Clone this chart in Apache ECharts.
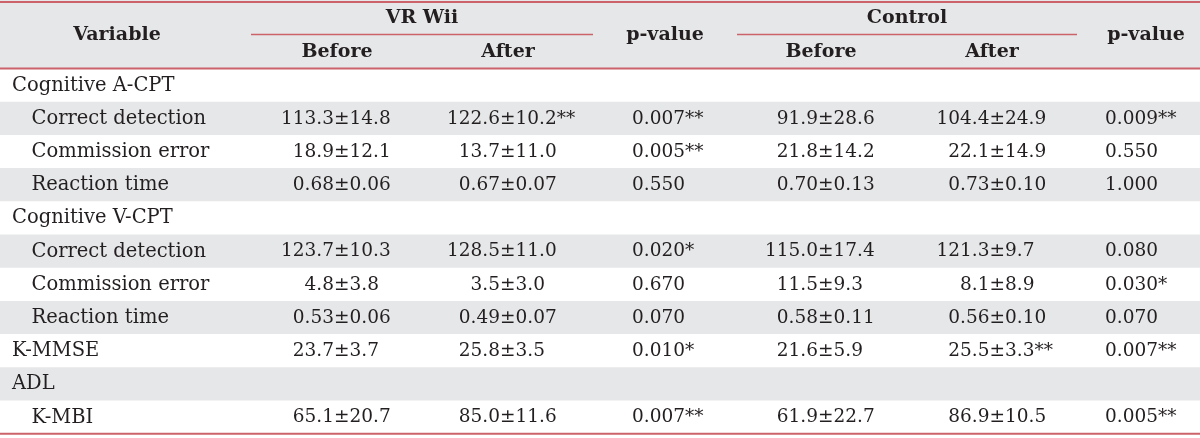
<!DOCTYPE html>
<html>
<head>
<meta charset="utf-8">
<script src="https://cdn.jsdelivr.net/npm/echarts@6/dist/echarts.min.js"></script>
<style>
  html, body { margin: 0; padding: 0; background: #fff; }
  #chart { width: 1200px; height: 438px; }
</style>
</head>
<body>
<div id="chart"></div>
<script>
// table content
const variables = ['Cognitive A-CPT', 'Correct detection', 'Commission error', 'Reaction time',
  'Cognitive V-CPT', 'Correct detection', 'Commission error', 'Reaction time',
  'K-MMSE', 'ADL', 'K-MBI']
const indent = [0, 1, 1, 1, 0, 1, 1, 1, 0, 0, 1]
const vrBefore = ['', '113.3±14.8', '18.9±12.1', '0.68±0.06', '', '123.7±10.3', '4.8±3.8', '0.53±0.06', '23.7±3.7', '', '65.1±20.7']
const vrAfter = ['', '122.6±10.2**', '13.7±11.0', '0.67±0.07', '', '128.5±11.0', '3.5±3.0', '0.49±0.07', '25.8±3.5', '', '85.0±11.6']
const vrP = ['', '0.007**', '0.005**', '0.550', '', '0.020*', '0.670', '0.070', '0.010*', '', '0.007**']
const ctrlBefore = ['', '91.9±28.6', '21.8±14.2', '0.70±0.13', '', '115.0±17.4', '11.5±9.3', '0.58±0.11', '21.6±5.9', '', '61.9±22.7']
const ctrlAfter = ['', '104.4±24.9', '22.1±14.9', '0.73±0.10', '', '121.3±9.7', '8.1±8.9', '0.56±0.10', '25.5±3.3**', '', '86.9±10.5']
const ctrlP = ['', '0.009**', '0.550', '1.000', '', '0.080', '0.030*', '0.070', '0.007**', '', '0.005**']

const groupHeaders = ['VR Wii', 'Control']
const subHeaders = ['Before', 'After']

// layout (pixel units on hidden axes)
const W = 1200, H = 438
const HEAD_H = 68.5
const ROW_H = 33.2
const TEXT = '#231f20'
const RED = '#cc636b'
const GRAY = '#e6e7e8'
const FONT = 'DejaVu Serif'

const rowY = (i) => HEAD_H + ROW_H * (i + 0.5)

// ± split points for mean/sd columns, left edge for p-value columns
const pmCols = [
  { x: 334, vals: vrBefore },
  { x: 500, vals: vrAfter },
  { x: 818, vals: ctrlBefore },
  { x: 989.5, vals: ctrlAfter }
]
const pCols = [
  { x: 632, vals: vrP },
  { x: 1105, vals: ctrlP }
]

const textSeries = (name, data, align, size, bold) => ({
  name,
  type: 'scatter',
  symbolSize: 0,
  silent: true,
  itemStyle: { opacity: 1 },
  data,
  label: {
    show: true,
    position: [0, 0],
    align,
    verticalAlign: 'middle',
    formatter: (p) => p.value[2],
    color: TEXT,
    opacity: 1,
    fontFamily: FONT,
    fontSize: size,
    fontWeight: bold ? 'bold' : 'normal'
  },
  z: 5
})

// bands: header plus every other body row
const bands = [[0, HEAD_H]]
variables.forEach((v, i) => {
  if (i % 2 === 1) bands.push([HEAD_H + ROW_H * i, HEAD_H + ROW_H * (i + 1)])
})

// rules: [x0, x1, y, width]
const rules = [
  [0, W, 2, 2],
  [0, W, HEAD_H, 2],
  [0, W, HEAD_H + ROW_H * variables.length, 2],
  [251, 593, 34.5, 1.5],
  [737, 1077, 34.5, 1.5]
]

const series = []

series.push({
  type: 'custom',
  silent: true,
  data: bands,
  renderItem: (params, api) => {
    const a = api.coord([0, api.value(0)])
    const b = api.coord([W, api.value(1)])
    return { type: 'rect', shape: { x: a[0], y: a[1], width: b[0] - a[0], height: b[1] - a[1] }, style: { fill: GRAY } }
  },
  z: 1
})

series.push({
  type: 'custom',
  silent: true,
  data: rules,
  renderItem: (params, api) => {
    const a = api.coord([api.value(0), api.value(2)])
    const b = api.coord([api.value(1), api.value(2)])
    return { type: 'line', shape: { x1: a[0], y1: a[1], x2: b[0], y2: b[1] }, style: { stroke: RED, lineWidth: api.value(3) } }
  },
  z: 3
})

// header text
series.push(textSeries('head', [
  [117, 35, 'Variable'],
  [422, 18, groupHeaders[0]],
  [907, 18, groupHeaders[1]],
  [337, 52, subHeaders[0]],
  [508, 52, subHeaders[1]],
  [821, 52, subHeaders[0]],
  [992, 52, subHeaders[1]],
  [665, 35, 'p-value'],
  [1146, 35, 'p-value']
], 'center', 19, true))

// variable names
series.push(textSeries('variable', variables.map((v, i) => [indent[i] ? 31.5 : 12, rowY(i) + 0.5, v]), 'left', 19.5, false))

// mean ± sd, aligned on the ± sign
const meanData = []
const sdData = []
pmCols.forEach((c) => {
  c.vals.forEach((s, i) => {
    if (!s) return
    const k = s.indexOf('±')
    meanData.push([c.x, rowY(i) + 0.5, s.slice(0, k)])
    sdData.push([c.x, rowY(i) + 0.5, s.slice(k)])
  })
})
series.push(textSeries('mean', meanData, 'right', 18.5, false))
series.push(textSeries('sd', sdData, 'left', 18.5, false))

// p-values
const pData = []
pCols.forEach((c) => {
  c.vals.forEach((s, i) => {
    if (s) pData.push([c.x, rowY(i) + 0.5, s])
  })
})
series.push(textSeries('p', pData, 'left', 18.5, false))

const chart = echarts.init(document.getElementById('chart'))
chart.setOption({
  animation: false,
  grid: { left: 0, right: 0, top: 0, bottom: 0 },
  xAxis: { type: 'value', min: 0, max: W, show: false },
  yAxis: { type: 'value', min: 0, max: H, inverse: true, show: false },
  series
})
</script>
</body>
</html>
